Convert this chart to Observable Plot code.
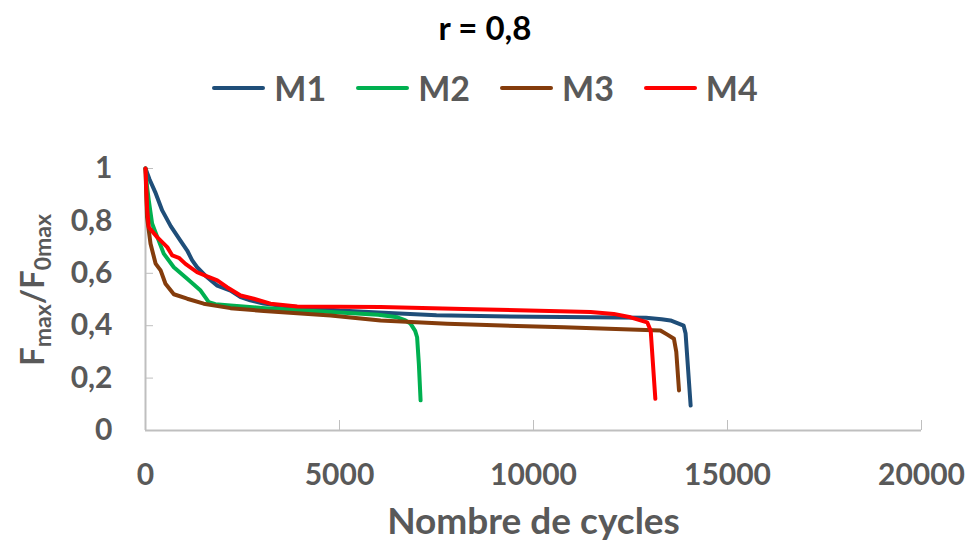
<!DOCTYPE html>
<html>
<head>
<meta charset="utf-8">
<script src="https://cdn.jsdelivr.net/npm/d3@7"></script>
<script src="https://cdn.jsdelivr.net/npm/@observablehq/plot@0.6"></script>
<style>
  html, body { margin: 0; padding: 0; background: #fff; }
  #wrap { position: relative; width: 970px; height: 549px; font-family: Lato, "Open Sans", sans-serif; font-weight: bold; }
  #title { position: absolute; left: 0; width: 970px; top: 7px; text-align: center; font-size: 33px; color: #000; line-height: 40px; z-index: 2; }
  #legend { position: absolute; left: 0; width: 970px; top: 68px; display: flex; justify-content: center; align-items: center; gap: 30px; font-size: 34px; color: #595959; line-height: 40px; z-index: 2; }
  .item { display: flex; align-items: center; gap: 9px; }
  .sw { width: 53px; height: 4px; border-radius: 2px; }
  #ytitle { position: absolute; left: 33px; top: 290px; transform: translate(-50%, -50%) rotate(-90deg); white-space: nowrap; font-size: 33px; color: #595959; z-index: 2; }
  #ytitle sub { font-size: 23px; vertical-align: -7px; }
  #chart { position: absolute; left: 0; top: 120px; z-index: 1; }
</style>
</head>
<body>
<div id="wrap">
  <div id="title"></div>
  <div id="legend"></div>
  <div id="ytitle">F<sub>max</sub>/F<sub>0max</sub></div>
  <div id="chart"></div>
</div>
<script>
const titleText = "r = 0,8";
const xLabel = "Nombre de cycles";
const seriesNames = ["M1", "M2", "M3", "M4"];
const seriesColors = ["#1f4e79", "#00b050", "#843c0c", "#ff0000"];
const xTicks = [0, 5000, 10000, 15000, 20000];
const yTicks = [0, 0.2, 0.4, 0.6, 0.8, 1];

const m1 = [[0,1],[100,0.96],[250,0.91],[430,0.84],[650,0.78],[900,0.725],[1075,0.687],[1200,0.65],[1330,0.623],[1550,0.59],[1850,0.553],[2190,0.534],[2450,0.509],[2700,0.497],[3040,0.485],[3500,0.476],[4000,0.47],[5000,0.458],[6000,0.45],[7500,0.44],[9000,0.436],[10000,0.434],[11500,0.432],[12900,0.43],[13300,0.425],[13530,0.42],[13870,0.40],[13920,0.37],[14050,0.095]];
const m2 = [[0,1],[40,0.93],[85,0.878],[170,0.79],[300,0.74],[470,0.675],[730,0.623],[1075,0.579],[1420,0.534],[1630,0.49],[1800,0.482],[2190,0.477],[3000,0.468],[4000,0.459],[5000,0.45],[6000,0.442],[6490,0.432],[6700,0.42],[6830,0.408],[6950,0.38],[7000,0.356],[7045,0.255],[7090,0.115]];
const m3 = [[0,1],[20,0.9],[40,0.814],[130,0.713],[260,0.637],[390,0.611],[515,0.56],[730,0.52],[1075,0.503],[1500,0.484],[2190,0.467],[3050,0.456],[4770,0.439],[6060,0.42],[7775,0.407],[10780,0.394],[13270,0.382],[13450,0.366],[13620,0.35],[13680,0.3],[13750,0.153]];
const m4 = [[0,1],[40,0.85],[85,0.776],[300,0.738],[560,0.70],[690,0.668],[860,0.659],[1030,0.636],[1330,0.604],[1590,0.588],[1850,0.573],[2100,0.547],[2450,0.515],[2790,0.503],[3220,0.484],[3910,0.473],[6060,0.471],[8200,0.464],[11470,0.452],[12070,0.445],[12500,0.432],[12930,0.413],[13020,0.382],[13140,0.121]];

const seriesData = [m1, m2, m3, m4];
const rows = seriesData.flatMap((s, i) => s.map(([x, y]) => ({series: seriesNames[i], x, y})));

document.getElementById("title").textContent = titleText;
const leg = document.getElementById("legend");
seriesNames.forEach((n, i) => {
  const it = document.createElement("div"); it.className = "item";
  const sw = document.createElement("div"); sw.className = "sw"; sw.style.background = seriesColors[i];
  const tx = document.createElement("span"); tx.textContent = n;
  it.appendChild(sw); it.appendChild(tx); leg.appendChild(it);
});

const fmt = d => String(d).replace(".", ",");

const chart = Plot.plot({
  width: 970,
  height: 429,
  marginTop: 48,
  marginBottom: 119,
  marginLeft: 145,
  marginRight: 49,
  style: {fontFamily: "Lato, 'Open Sans', sans-serif", fontSize: "30px", fontWeight: "bold", color: "#595959", background: "transparent", overflow: "visible"},
  x: {domain: [0, 20000]},
  y: {domain: [0, 1]},
  color: {domain: seriesNames, range: seriesColors},
  marks: [
    Plot.axisX({ticks: xTicks, tickSize: -10, tickPadding: 43, stroke: "#bfbfbf", fill: "#595959", tickFormat: d => String(d), label: null}),
    Plot.axisY({ticks: yTicks, tickSize: -8, tickPadding: 41, stroke: "#bfbfbf", fill: "#595959", tickFormat: fmt, label: null}),
    Plot.ruleX([0], {stroke: "#bfbfbf", strokeWidth: 2}),
    Plot.ruleY([0], {stroke: "#bfbfbf", strokeWidth: 2}),
    Plot.line(rows, {x: "x", y: "y", z: "series", stroke: "series", strokeWidth: 4, strokeLinejoin: "round", strokeLinecap: "round"}),
    Plot.text([xLabel], {frameAnchor: "bottom", dy: 103, fontSize: 37, fill: "#595959", fontWeight: "bold"})
  ]
});
document.getElementById("chart").appendChild(chart);
</script>
</body>
</html>
